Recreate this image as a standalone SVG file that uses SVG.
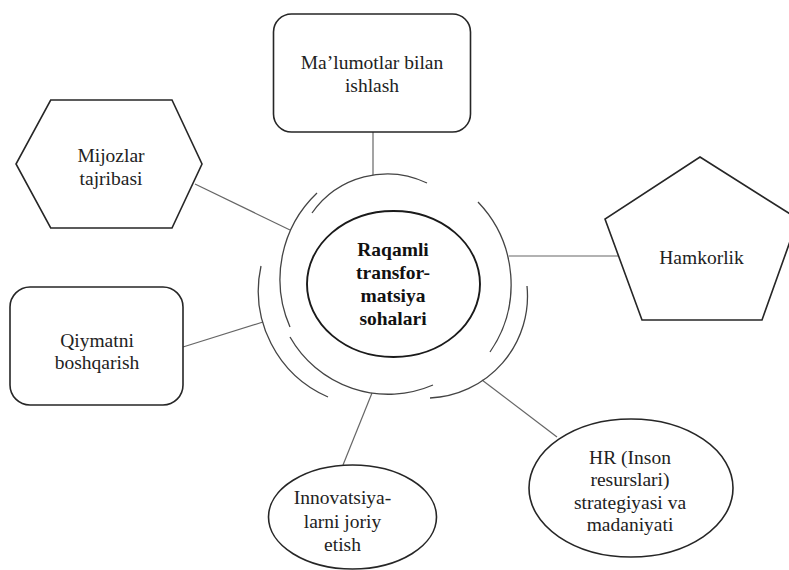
<svg xmlns="http://www.w3.org/2000/svg" width="789" height="570" viewBox="0 0 789 570">
<style>
.node{fill:#fff;stroke:#262626;stroke-width:1.6}
.t{font-family:"Liberation Serif","Times New Roman",serif;font-size:19.5px;fill:#222;text-anchor:middle}
.tb{font-family:"Liberation Serif","Times New Roman",serif;font-size:19.5px;font-weight:bold;fill:#111;text-anchor:middle}
.arc{fill:none;stroke:#444;stroke-width:1.3}
.conn{fill:none;stroke:#666;stroke-width:1.2}
</style>
<rect width="789" height="570" fill="#fff"/>
<g id="connectors">
<line class="conn" x1="373" y1="132" x2="373" y2="175"/>
<line class="conn" x1="195" y1="184" x2="290" y2="230"/>
<line class="conn" x1="509" y1="256" x2="619" y2="256"/>
<line class="conn" x1="183" y1="347" x2="263" y2="322"/>
<line class="conn" x1="372" y1="393" x2="343" y2="465"/>
<line class="conn" x1="482" y1="380" x2="557" y2="437"/>
</g>
<g id="rings">
<path class="arc" d="M312,213 A92,92 0 0 1 427,183"/>
<path class="arc" d="M290,327 A119,119 0 0 1 317,193"/>
<path class="arc" d="M478,202 A119,119 0 0 1 490,352"/>
<path class="arc" d="M527,286 A102,102 0 0 1 430,398"/>
<path class="arc" d="M290,337 A113,113 0 0 0 433,385"/>
<path class="arc" d="M261,266 A116,116 0 0 0 328,397"/>
</g>
<g id="center">
<ellipse cx="393.5" cy="284" rx="86.5" ry="73" fill="#fff" stroke="#1a1a1a" stroke-width="1.9"/>
<text class="tb" x="393" y="255.5">Raqamli</text>
<text class="tb" x="393" y="278.5">transfor-</text>
<text class="tb" x="393" y="301.5">matsiya</text>
<text class="tb" x="393" y="324.5">sohalari</text>
</g>
<g id="malumotlar">
<rect class="node" x="273.5" y="14" width="197" height="118" rx="18"/>
<text class="t" x="372" y="68.5">Ma’lumotlar bilan</text>
<text class="t" x="372" y="92">ishlash</text>
</g>
<g id="mijozlar">
<polygon class="node" points="50.7,100 172,100 202,164 172,228 50.7,228 16,164"/>
<text class="t" x="111" y="161.7">Mijozlar</text>
<text class="t" x="111" y="184.5">tajribasi</text>
</g>
<g id="hamkorlik">
<polygon class="node" points="700,157 798,219 762,320 642,320 605,219"/>
<text class="t" x="701.5" y="264">Hamkorlik</text>
</g>
<g id="qiymatni">
<rect class="node" x="10" y="287" width="173" height="118" rx="20"/>
<text class="t" x="97" y="346.5">Qiymatni</text>
<text class="t" x="97" y="368.5">boshqarish</text>
</g>
<g id="innovatsiya">
<ellipse class="node" cx="352.5" cy="517" rx="84" ry="52"/>
<text class="t" x="342.5" y="503.5">Innovatsiya-</text>
<text class="t" x="342.5" y="528">larni joriy</text>
<text class="t" x="342.5" y="551">etish</text>
</g>
<g id="hr">
<ellipse class="node" cx="631" cy="488" rx="102" ry="69"/>
<text class="t" x="630" y="463.5">HR (Inson</text>
<text class="t" x="630" y="486">resurslari)</text>
<text class="t" x="630" y="508.5">strategiyasi va</text>
<text class="t" x="630" y="531">madaniyati</text>
</g>
</svg>
